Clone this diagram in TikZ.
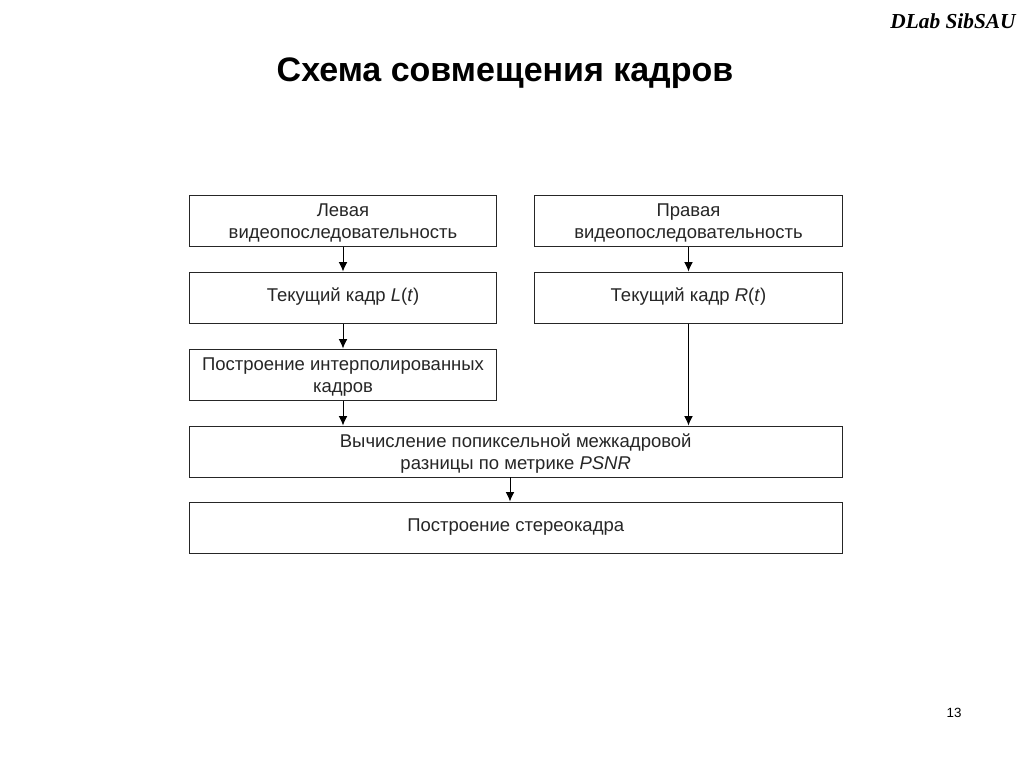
\documentclass[tikz,border=0pt]{standalone}
\usepackage{fontspec}
\setmainfont{Liberation Sans}
\newfontfamily\logofont{Liberation Serif}
\usetikzlibrary{arrows.meta}
\tikzset{
  blockbox/.style={draw=black!85,line width=0.75pt,align=center,minimum height=38.25pt,inner sep=0pt,text=black!85,font=\fontsize{13.87pt}{16.5pt}\selectfont},
  narrowbox/.style={blockbox,minimum width=230.5pt},
  widebox/.style={blockbox,minimum width=489.5pt},
  oneline/.style={text height=14pt,text depth=7.5pt},
  flow/.style={-{Latex[length=7pt,width=6.5pt]},line width=0.75pt,black}
}
\begin{document}
\begin{tikzpicture}[x=0.75pt,y=-0.75pt]
  \useasboundingbox (0,0) rectangle (1024,768);
  \node[font=\fontsize{25.5pt}{30pt}\selectfont\bfseries] (title) at (505,73) {Схема совмещения кадров};
  \node[font=\fontsize{16pt}{20pt}\selectfont\logofont\bfseries\itshape] (logo) at (953,21) {DLab SibSAU};
  \node[font=\fontsize{10pt}{12pt}\selectfont] (page) at (954,713) {13};
  \node[narrowbox,text height=29.5pt] (leftseq) at (343,220.5) {Левая\\видеопоследовательность};
  \node[narrowbox,text height=29.5pt] (rightseq) at (688.5,220.5) {Правая\\видеопоследовательность};
  \node[narrowbox,oneline] (leftframe) at (343,297.5) {Текущий кадр \textit{L}(\textit{t})};
  \node[narrowbox,oneline] (rightframe) at (688.5,297.5) {Текущий кадр \textit{R}(\textit{t})};
  \node[narrowbox,text height=29.5pt] (interp) at (343,374.5) {Построение интерполированных\\кадров};
  \node[widebox,text height=29.5pt] (psnr) at (515.7,451.5) {Вычисление попиксельной межкадровой\\разницы по метрике \textit{PSNR}};
  \node[widebox,oneline] (stereo) at (515.7,527.5) {Построение стереокадра};
  \coordinate (psnrout) at (510,477);
  \begin{scope}[flow]
    \draw (leftseq) to (leftframe);
    \draw (rightseq) to (rightframe);
    \draw (leftframe) to (interp);
    \draw (interp) to (interp |- psnr.north);
    \draw (rightframe) to (rightframe |- psnr.north);
    \draw (psnrout) to (psnrout |- stereo.north);
  \end{scope}
\end{tikzpicture}
\end{document}
